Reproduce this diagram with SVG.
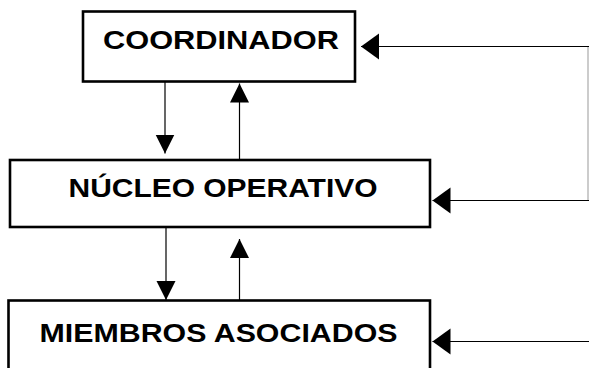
<svg xmlns="http://www.w3.org/2000/svg" width="589" height="368" viewBox="0 0 589 368">
<style>
.box{fill:#fff;stroke:#000;stroke-width:2.6}
.lbl{font-family:"Liberation Sans",Arial,sans-serif;font-weight:bold;font-size:26px;fill:#000}
.con{fill:none;stroke:#000;stroke-width:1.2}
.fb{fill:none;stroke:#000;stroke-width:1.2}
.side{fill:none;stroke:#999;stroke-width:1}
</style>
<defs>
<marker id="ah" markerUnits="userSpaceOnUse" markerWidth="20" markerHeight="28" refX="18" refY="13" orient="auto">
<path d="M0,0 L18,13 L0,26 Z" fill="#000"/>
</marker>
<marker id="av" markerUnits="userSpaceOnUse" markerWidth="21" markerHeight="21" refX="19" refY="9.5" orient="auto">
<path d="M0,0 L19,9.5 L0,19 Z" fill="#000"/>
</marker>
</defs>
<rect width="589" height="368" fill="#fff"/>
<g id="coordinador">
<rect class="box" x="83" y="11.5" width="272" height="70"/>
<text class="lbl" x="103" y="48.5" textLength="236" lengthAdjust="spacingAndGlyphs">COORDINADOR</text>
</g>
<g id="nucleo">
<rect class="box" x="10" y="160" width="420" height="67"/>
<text class="lbl" x="68.5" y="197" textLength="309" lengthAdjust="spacingAndGlyphs">NÚCLEO OPERATIVO</text>
</g>
<g id="miembros">
<rect class="box" x="8.5" y="300.5" width="421.5" height="75"/>
<text class="lbl" x="39.5" y="342" textLength="358" lengthAdjust="spacingAndGlyphs">MIEMBROS ASOCIADOS</text>
</g>
<g id="connectors">
<line class="con" x1="165" y1="82" x2="165" y2="153.5" marker-end="url(#av)"/>
<line class="con" x1="239.5" y1="160" x2="239.5" y2="83.5" marker-end="url(#av)"/>
<line class="con" x1="166" y1="227" x2="166" y2="300" marker-end="url(#av)"/>
<line class="con" x1="239.5" y1="300" x2="239.5" y2="239" marker-end="url(#av)"/>
<line class="side" x1="588" y1="46.5" x2="588" y2="200.5"/>
<line class="fb" x1="589" y1="46.5" x2="361" y2="46.5" marker-end="url(#ah)"/>
<line class="fb" x1="589" y1="200.5" x2="432.5" y2="200.5" marker-end="url(#ah)"/>
<line class="fb" x1="589" y1="341.5" x2="432.5" y2="341.5" marker-end="url(#ah)"/>
</g>
</svg>
